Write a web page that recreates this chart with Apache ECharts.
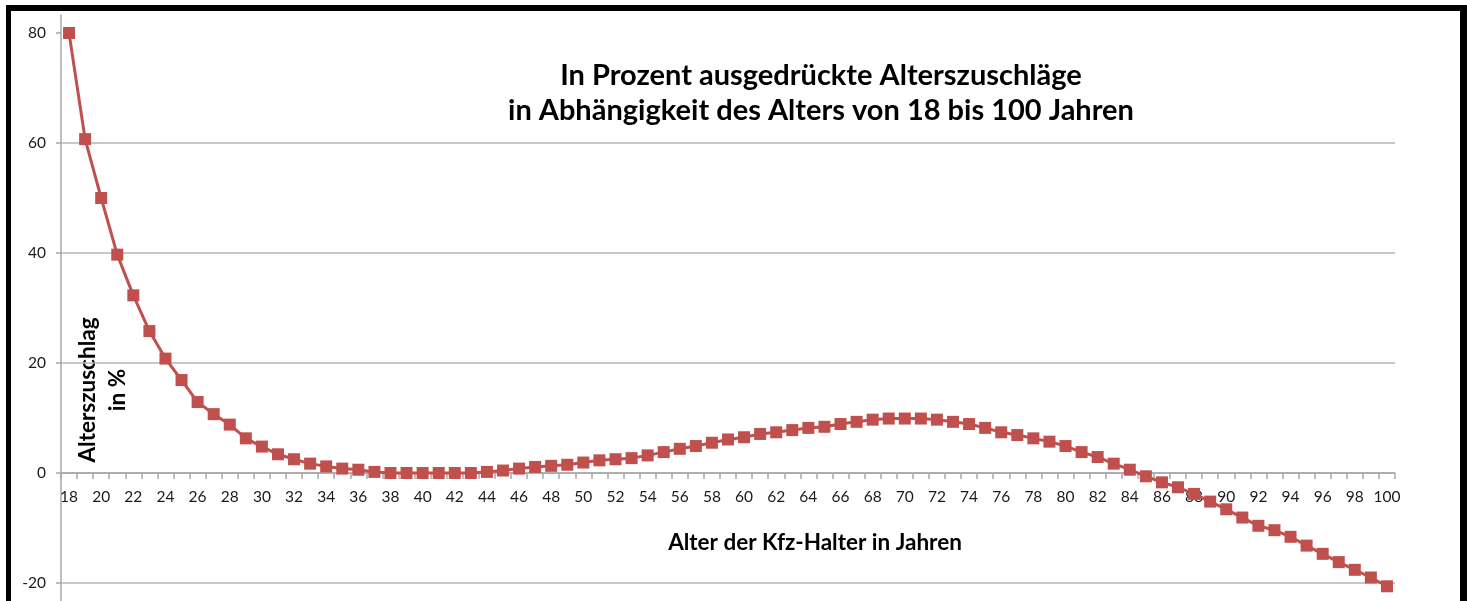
<!DOCTYPE html>
<html>
<head>
<meta charset="utf-8">
<script src="https://cdn.jsdelivr.net/npm/echarts@6/dist/echarts.min.js"></script>
<style>
html,body{margin:0;padding:0;background:#fff;overflow:hidden;}
#chart{position:absolute;left:0;top:0;width:1467px;height:601px;}
#frame{position:absolute;left:6px;top:5px;right:0;bottom:-30px;border-top:6px solid #000;border-left:5px solid #000;border-right:7px solid #000;pointer-events:none;}
</style>
</head>
<body>
<div id="chart"></div>
<div id="frame"></div>
<script>
const ages = [18,19,20,21,22,23,24,25,26,27,28,29,30,31,32,33,34,35,36,37,38,39,40,41,42,43,44,45,46,47,48,49,50,51,52,53,54,55,56,57,58,59,60,61,62,63,64,65,66,67,68,69,70,71,72,73,74,75,76,77,78,79,80,81,82,83,84,85,86,87,88,89,90,91,92,93,94,95,96,97,98,99,100];
const surcharge = [80,60.7,50,39.7,32.3,25.8,20.8,16.9,12.9,10.7,8.8,6.3,4.8,3.4,2.5,1.7,1.2,0.8,0.6,0.2,0,0,0,0,0,0,0.2,0.45,0.8,1.1,1.3,1.5,1.9,2.3,2.5,2.7,3.2,3.8,4.4,4.9,5.5,6.1,6.5,7.1,7.4,7.8,8.2,8.4,8.9,9.3,9.7,9.9,9.9,9.9,9.7,9.3,8.9,8.2,7.4,6.9,6.3,5.7,4.9,3.8,2.9,1.7,0.6,-0.6,-1.7,-2.6,-3.8,-5.2,-6.6,-8.1,-9.6,-10.4,-11.6,-13.2,-14.7,-16.2,-17.6,-19.0,-20.6];
const yTickValues = [-40,-20,0,20,40,60,80];
const titleLines = ['In Prozent ausgedrückte Alterszuschläge','in Abhängigkeit des Alters von 18 bis 100 Jahren'];
const yName = ['Alterszuschlag','in %'];
const xName = 'Alter der Kfz-Halter in Jahren';

const FONT = 'Lato, Carlito, "Open Sans", sans-serif';
const chart = echarts.init(document.getElementById('chart'), null, {renderer:'canvas'});
chart.setOption({
  animation:false,
  backgroundColor:'#fff',
  title:{
    text:titleLines.join('\n'),
    left:816, top:53, textAlign:'center',
    textStyle:{fontFamily:FONT,fontWeight:'bold',fontSize:29,lineHeight:35,color:'#000'}
  },
  grid:{left:61,right:72,top:15,bottom:-92,containLabel:false,outerBoundsMode:'none'},
  xAxis:{
    type:'category', data:ages, boundaryGap:true, position:'bottom', offset:-220,
    axisLine:{onZero:false,lineStyle:{color:'#a8a8a8',width:1.5}},
    axisTick:{show:true,interval:0,length:6,lineStyle:{color:'#a8a8a8',width:1.5}},
    axisLabel:{interval:1,margin:16,fontFamily:FONT,fontSize:15.5,color:'#1a1a1a'},
    splitLine:{show:false}
  },
  yAxis:{
    type:'value', min:-40, max:83.27, interval:20,
    axisLine:{show:true,lineStyle:{color:'#a8a8a8',width:1.5}},
    axisTick:{show:true,length:5,customValues:yTickValues,lineStyle:{color:'#a8a8a8',width:1.5}},
    axisLabel:{margin:15,fontFamily:FONT,fontSize:15.5,color:'#1a1a1a',customValues:yTickValues},
    splitLine:{show:true,showMaxLine:false,lineStyle:{color:'#b4b4b4',width:1.5}}
  },
  graphic:[
    {type:'text',x:103,y:390,rotation:Math.PI/2,
      style:{text:yName.join('\n'),fontFamily:FONT,fontWeight:'bold',fontSize:22.5,lineHeight:30,fill:'#000',align:'center',verticalAlign:'middle'}},
    {type:'text',x:815,y:543,
      style:{text:xName,fontFamily:FONT,fontWeight:'bold',fontSize:22.5,fill:'#000',align:'center',verticalAlign:'middle'}}
  ],
  series:[{
    type:'line', data:surcharge, symbol:'rect', symbolSize:12, showAllSymbol:true,
    lineStyle:{color:'#C0504D',width:3},
    itemStyle:{color:'#C0504D'},
    clip:false, z:3
  }]
});
</script>
</body>
</html>
